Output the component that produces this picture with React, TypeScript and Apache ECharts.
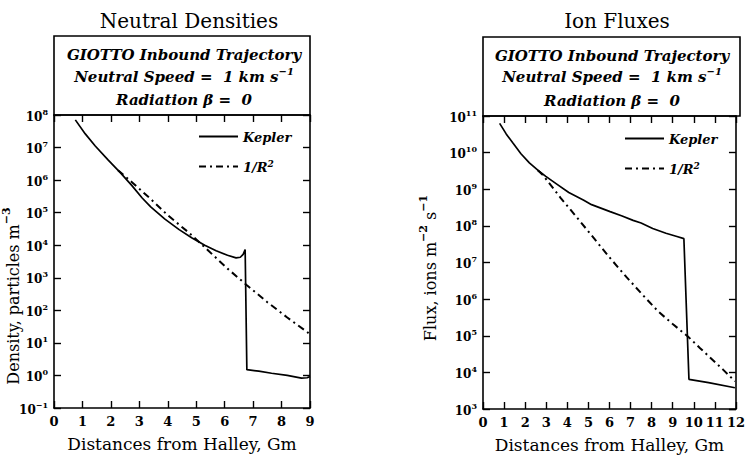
import React, { useEffect, useRef } from "react";
import * as echarts from "echarts";

const FONT = "'DejaVu Serif', serif";

// Neutral densities (particles m^-3) against distance from Halley (Gm)
const densityKeplerX = [0.75, 1.1, 1.45, 1.9, 2.33, 2.74, 3.1, 3.4, 3.9, 4.4, 4.84, 5.3, 5.7, 6.1, 6.4, 6.55, 6.65, 6.72, 6.78, 7.2, 7.65, 8.2, 8.7, 8.9, 9.0];
const densityKepler = [7.08e7, 2.63e7, 1.12e7, 4.17e6, 1.7e6, 6.76e5, 2.82e5, 1.51e5, 6.31e4, 3.02e4, 1.7e4, 1.0e4, 6.76e3, 4.9e3, 4.07e3, 4.27e3, 5.25e3, 7.41e3, 1.51, 1.35, 1.17, 1.0, 0.83, 0.85, 0.93];
const densityInvSqX = [2.25, 2.75, 3.4, 4.0, 4.75, 5.43, 6.1, 6.77, 7.5, 8.2, 8.95];
const densityInvSq = [2.0e6, 8.51e5, 2.63e5, 8.32e4, 2.4e4, 6.76e3, 1.91e3, 603, 178, 60.3, 20.0];

// Ion fluxes (ions m^-2 s^-1) against distance from Halley (Gm)
const fluxKeplerX = [0.79, 1.1, 1.42, 1.8, 2.2, 2.6, 2.98, 3.5, 4.07, 4.78, 5.15, 6.03, 6.6, 7.12, 7.5, 8.05, 8.68, 9.2, 9.53, 9.77, 10.7, 11.95];
const fluxKepler = [6.31e10, 3.24e10, 1.82e10, 9.33e9, 5.25e9, 3.31e9, 2.24e9, 1.38e9, 8.13e8, 5.01e8, 3.8e8, 2.45e8, 1.86e8, 1.41e8, 1.2e8, 8.51e7, 6.31e7, 5.13e7, 4.47e7, 6.46e3, 5.25e3, 3.8e3];
const fluxInvSqX = [2.6, 2.85, 3.69, 4.5, 5.25, 6.0, 6.81, 7.6, 8.3, 9.0, 9.72, 10.3, 10.86, 11.4, 11.95];
const fluxInvSq = [3.31e9, 2.4e9, 5.75e8, 1.58e8, 4.68e7, 1.38e7, 3.98e6, 1.26e6, 4.68e5, 2.09e5, 9.55e4, 4.57e4, 2.29e4, 1.17e4, 5.75e3];

// Axis ranges
const densityRangeX = [0, 9];
const densityRangeY = [0.1, 1e8];
const fluxRangeX = [0, 12];
const fluxRangeY = [1e3, 1e11];

const SERIES_NAMES = ["Kepler", "1/R²"];
const HEADER_LINES = ["GIOTTO Inbound Trajectory", "Neutral Speed =  1 km s{sup|−1}", "Radiation β =  0"];

const zip = (xs: number[], ys: number[]) => xs.map((x, i) => [x, ys[i]]);

const supStyle = (size: number, style: string, weight: string) => ({
  fontSize: size,
  fontFamily: FONT,
  fontStyle: style,
  fontWeight: weight,
  color: "#000",
  verticalAlign: "top",
  lineHeight: 15,
});

const powerLabel = (v: number) => {
  const e = Math.round(Math.log10(v));
  return `{b|10}{sup|${e < 0 ? "−" + -e : e}}`;
};

const axisLineStyle = { color: "#000", width: 1.6 };

function xAxes(grid: number, range: number[]) {
  const common = {
    gridIndex: grid,
    type: "value",
    min: range[0],
    max: range[1],
    interval: 1,
    splitLine: { show: false },
    axisLine: { show: true, onZero: false, lineStyle: axisLineStyle },
    axisTick: { show: true, inside: true, length: 7, lineStyle: { color: "#000", width: 1.4 } },
  };
  return [
    {
      ...common,
      position: "bottom",
      name: "Distances from Halley, Gm",
      nameLocation: "middle",
      nameGap: 27,
      nameTextStyle: { fontFamily: FONT, fontSize: 17, color: "#000" },
      axisLabel: { fontFamily: FONT, fontWeight: "bold", fontSize: 13, color: "#000", margin: 7 },
    },
    { ...common, position: "top", axisLabel: { show: false } },
  ];
}

function yAxes(grid: number, range: number[]) {
  const common = {
    gridIndex: grid,
    type: "log",
    logBase: 10,
    min: range[0],
    max: range[1],
    splitLine: { show: false },
    minorTick: { show: false },
    axisLine: { show: true, onZero: false, lineStyle: axisLineStyle },
    axisTick: { show: true, inside: true, length: 7, lineStyle: { color: "#000", width: 1.4 } },
  };
  return [
    {
      ...common,
      position: "left",
      axisLabel: {
        margin: 6,
        formatter: powerLabel,
        rich: {
          b: { fontSize: 12, fontFamily: FONT, fontWeight: "bold", color: "#000", verticalAlign: "bottom", lineHeight: 15 },
          sup: supStyle(8, "normal", "bold"),
        },
      },
    },
    { ...common, position: "right", axisLabel: { show: false } },
  ];
}

function curves(xIdx: number, yIdx: number, kx: number[], ky: number[], ix: number[], iy: number[]) {
  return [
    {
      name: SERIES_NAMES[0],
      type: "line",
      xAxisIndex: xIdx,
      yAxisIndex: yIdx,
      data: zip(kx, ky),
      symbol: "none",
      color: "#000",
      lineStyle: { color: "#000", width: 1.7 },
      z: 3,
    },
    {
      name: SERIES_NAMES[1],
      type: "line",
      xAxisIndex: xIdx,
      yAxisIndex: yIdx,
      data: zip(ix, iy),
      symbol: "none",
      color: "#000",
      lineStyle: { color: "#000", width: 2, type: [7, 4, 2, 4] },
      z: 2,
    },
  ];
}

function legendAt(left: number, top: number) {
  return {
    left,
    top,
    padding: 0,
    orient: "vertical",
    itemWidth: 39,
    itemHeight: 14,
    itemGap: 15,
    selectedMode: false,
    itemStyle: { opacity: 0 },
    data: SERIES_NAMES,
    formatter: (name: string) => (name === "1/R²" ? "{i|1/R}{sup|2}" : `{i|${name}}`),
    textStyle: {
      rich: {
        i: { fontSize: 13, fontFamily: FONT, fontStyle: "italic", fontWeight: "bold", color: "#000", verticalAlign: "bottom", lineHeight: 15 },
        sup: supStyle(9, "italic", "bold"),
      },
    },
  };
}

function header(left: number, width: number, top: number, bottom: number, cx: number, ys: number[]) {
  const els: any[] = [
    {
      type: "rect",
      shape: { x: left, y: top, width, height: bottom - top },
      style: { fill: "none", stroke: "#000", lineWidth: 1.6 },
    },
  ];
  HEADER_LINES.forEach((line, i) => {
    els.push({
      type: "text",
      x: cx,
      y: ys[i],
      style: {
        text: line.includes("{") ? line.replace(/^([^{]*)/, "{t|$1}") : `{t|${line}}`,
        align: "center",
        verticalAlign: "middle",
        rich: {
          t: { fontSize: 15, fontFamily: FONT, fontStyle: "italic", fontWeight: "bold", fill: "#000", verticalAlign: "bottom", lineHeight: 18 },
          sup: { fontSize: 10, fontFamily: FONT, fontStyle: "italic", fontWeight: "bold", fill: "#000", verticalAlign: "top", lineHeight: 18 },
        },
      },
    });
  });
  return els;
}

function yName(x: number, y: number, text: string, size: number) {
  return {
    type: "text",
    x,
    y,
    rotation: Math.PI / 2,
    style: {
      text,
      align: "center",
      verticalAlign: "middle",
      rich: {
        t: { fontSize: size, fontFamily: FONT, fill: "#000", verticalAlign: "bottom", lineHeight: size + 4 },
        sup: { fontSize: size - 5, fontFamily: FONT, fontWeight: "bold", fill: "#000", verticalAlign: "top", lineHeight: size + 4 },
      },
    },
  };
}

export default function App() {
  const ref = useRef<HTMLDivElement>(null);

  useEffect(() => {
    if (!ref.current) return;
    const chart = echarts.init(ref.current, undefined, { renderer: "svg" });
    const titleStyle = { fontFamily: FONT, fontSize: 20, fontWeight: "normal", color: "#000" };
    chart.setOption({
      animation: false,
      backgroundColor: "#fff",
      title: [
        { text: "Neutral Densities", left: 184, top: 6, textAlign: "center", textStyle: titleStyle },
        { text: "Ion Fluxes", left: 612, top: 6, textAlign: "center", textStyle: titleStyle },
      ],
      grid: [
        { left: 54, top: 115, width: 256, height: 293 },
        { left: 483, top: 116, width: 257, height: 293 },
      ],
      xAxis: [...xAxes(0, densityRangeX), ...xAxes(1, fluxRangeX)],
      yAxis: [...yAxes(0, densityRangeY), ...yAxes(1, fluxRangeY)],
      legend: [legendAt(198, 131), legendAt(624, 133)],
      series: [
        ...curves(0, 0, densityKeplerX, densityKepler, densityInvSqX, densityInvSq),
        ...curves(2, 2, fluxKeplerX, fluxKepler, fluxInvSqX, fluxInvSq),
      ],
      graphic: [
        ...header(54, 256, 36, 115, 184, [53, 75, 98]),
        ...header(483, 257, 37, 116, 612, [54, 75, 99]),
        yName(11, 296, "{t|Density, particles m}{sup|−3}", 16),
        yName(428, 268, "{t|Flux, ions m}{sup|−2}{t| s}{sup|−1}", 16),
      ],
    });
    return () => chart.dispose();
  }, []);

  return (
    <div
      ref={ref}
      style={{ position: "fixed", left: 0, top: 0, width: 748, height: 458, background: "#fff" }}
    />
  );
}
